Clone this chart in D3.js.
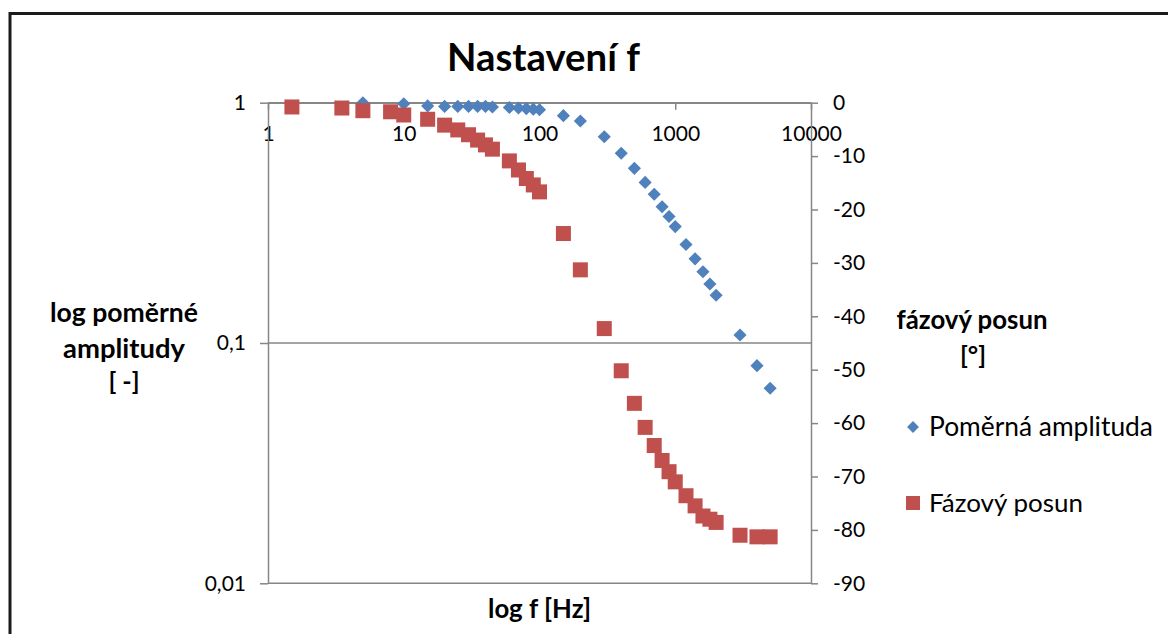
<!DOCTYPE html>
<html>
<head>
<meta charset="utf-8">
<script src="https://cdn.jsdelivr.net/npm/d3@7"></script>
<style>
  html, body { margin: 0; padding: 0; background: #fff; }
  svg { display: block; }
  text { font-family: Lato, "Open Sans", sans-serif; fill: #000; }
</style>
</head>
<body>
<svg id="chart" width="1168" height="634"></svg>
<script>
// ---- data ----
const chartTitle = "Nastavení f";
const xTicks = [1, 10, 100, 1000, 10000];
const leftTicks = [1, 0.1, 0.01];
const leftTickLabels = ["1", "0,1", "0,01"];
const rightTicks = [0, -10, -20, -30, -40, -50, -60, -70, -80, -90];

const ampFreq = [5, 10, 15, 20, 25, 30, 35, 40, 45, 60, 70, 80, 90, 100, 150, 200, 300, 400, 500, 600, 700, 800, 900, 1000, 1200, 1400, 1600, 1800, 2000, 3000, 4000, 5000];
const ampValues = [1.0, 0.99, 0.97, 0.965, 0.965, 0.965, 0.965, 0.965, 0.96, 0.955, 0.95, 0.945, 0.94, 0.935, 0.883, 0.839, 0.722, 0.616, 0.533, 0.466, 0.416, 0.369, 0.336, 0.305, 0.257, 0.224, 0.198, 0.176, 0.158, 0.108, 0.0805, 0.0648];

const phaseFreq = [1.5, 3.5, 5, 8, 10, 15, 20, 25, 30, 35, 40, 45, 60, 70, 80, 90, 100, 150, 200, 300, 400, 500, 600, 700, 800, 900, 1000, 1200, 1400, 1600, 1800, 2000, 3000, 4000, 5000];
const phaseValues = [-0.8, -1.0, -1.5, -1.7, -2.3, -3.1, -4.2, -5.1, -6.0, -7.0, -7.9, -8.7, -10.9, -12.6, -14.2, -15.4, -16.7, -24.5, -31.3, -42.3, -50.2, -56.3, -60.8, -64.2, -67.0, -69.1, -71.0, -73.6, -75.5, -77.4, -78.0, -78.6, -81.0, -81.3, -81.3];

const seriesNames = ["Poměrná amplituda", "Fázový posun"];
const seriesColors = ["#4F81BD", "#C0504D"];

// ---- layout ----
const L = 268, R = 811, T = 102.7, B = 583.3;
const axisColor = "#868686";
const tickFont = 21;

const svg = d3.select("#chart");
svg.append("rect").attr("x", 0).attr("y", 0).attr("width", 1168).attr("height", 634).attr("fill", "#fff");
svg.append("rect").attr("x", 10).attr("y", 13.5).attr("width", 1300).attr("height", 800)
  .attr("fill", "none").attr("stroke", "#1a1a1a").attr("stroke-width", 3);

const x = d3.scaleLog().domain([1, 10000]).range([L, R]);
const yL = d3.scaleLog().domain([0.01, 1]).range([B, T]);
const yR = d3.scaleLinear().domain([-90, 0]).range([B, T]);

function fit(sel, w) {
  const cur = sel.node().getComputedTextLength();
  const fs = parseFloat(sel.attr("font-size"));
  if (cur > 0) sel.attr("font-size", fs * w / cur);
  return sel;
}

// gridlines (left axis major)
svg.append("g").selectAll("line").data(leftTicks).join("line")
  .attr("x1", L).attr("x2", R)
  .attr("y1", d => yL(d)).attr("y2", d => yL(d))
  .attr("stroke", axisColor).attr("stroke-width", 1.5);

// x axis at top (crossing at 1)
const gx = svg.append("g").attr("transform", `translate(0,${T})`)
  .call(d3.axisBottom(x).tickValues(xTicks).tickFormat(d => String(d)).tickSize(7).tickSizeOuter(0));
gx.selectAll("text").attr("y", 31).attr("dy", "0.35em").attr("font-size", tickFont).attr("fill", "#000");

// left axis
const gl = svg.append("g").attr("transform", `translate(${L},0)`)
  .call(d3.axisLeft(yL).tickValues(leftTicks).tickFormat((d, i) => leftTickLabels[i]).tickSize(8).tickPadding(14).tickSizeOuter(0));
gl.selectAll("text").attr("font-size", tickFont).attr("fill", "#000");

// right axis
const gr = svg.append("g").attr("transform", `translate(${R},0)`)
  .call(d3.axisRight(yR).tickValues(rightTicks).tickFormat(d => String(d)).tickSize(7).tickPadding(15).tickSizeOuter(0));
gr.selectAll("text").attr("font-size", tickFont).attr("fill", "#000");

[gx, gl, gr].forEach(g => {
  g.select(".domain").attr("stroke", axisColor).attr("stroke-width", 1.5);
  g.selectAll(".tick line").attr("stroke", axisColor).attr("stroke-width", 1.5);
  g.attr("font-family", null);
});

// series
const diamond = d3.symbol().type(d3.symbolDiamond2).size(110);
svg.append("g").selectAll("path").data(ampFreq.map((f, i) => [f, ampValues[i]])).join("path")
  .attr("d", diamond)
  .attr("transform", d => `translate(${x(d[0])},${yL(d[1])})`)
  .attr("fill", seriesColors[0]);

const sq = 15;
svg.append("g").selectAll("rect").data(phaseFreq.map((f, i) => [f, phaseValues[i]])).join("rect")
  .attr("x", d => x(d[0]) - sq / 2).attr("y", d => yR(d[1]) - sq / 2)
  .attr("width", sq).attr("height", sq)
  .attr("fill", seriesColors[1]);

// title
fit(svg.append("text").attr("x", 543.5).attr("y", 58).attr("dy", "0.35em")
  .attr("text-anchor", "middle").attr("font-weight", "bold").attr("font-size", 30)
  .text(chartTitle), 193);

// bold axis titles, sized to the widths measured in the picture
function boldText(t, cx, cy, w) {
  return fit(svg.append("text").attr("x", cx).attr("y", cy).attr("dy", "0.35em")
    .attr("text-anchor", "middle").attr("font-weight", "bold").attr("font-size", 21).text(t), w);
}
boldText("log poměrné", 124, 313, 148);
boldText("amplitudy", 124, 348, 122);
svg.append("text").attr("x", 124).attr("y", 381).attr("dy", "0.35em")
  .attr("text-anchor", "middle").attr("font-weight", "bold").attr("font-size", 25).text("[ -]");

boldText("fázový posun", 972, 320, 151);
svg.append("text").attr("x", 973).attr("y", 355).attr("dy", "0.35em")
  .attr("text-anchor", "middle").attr("font-weight", "bold").attr("font-size", 25).text("[°]");

boldText("log f [Hz]", 539.5, 609, 103);

// legend
const lg = svg.append("g");
lg.append("path").attr("d", d3.symbol().type(d3.symbolDiamond2).size(90))
  .attr("transform", "translate(913,427)").attr("fill", seriesColors[0]);
lg.append("rect").attr("x", 906).attr("y", 496).attr("width", 14).attr("height", 14).attr("fill", seriesColors[1]);
fit(lg.append("text").attr("x", 929).attr("y", 427).attr("dy", "0.35em").attr("font-size", 22).text(seriesNames[0]), 224);
fit(lg.append("text").attr("x", 929).attr("y", 503).attr("dy", "0.35em").attr("font-size", 22).text(seriesNames[1]), 154);
</script>
</body>
</html>
